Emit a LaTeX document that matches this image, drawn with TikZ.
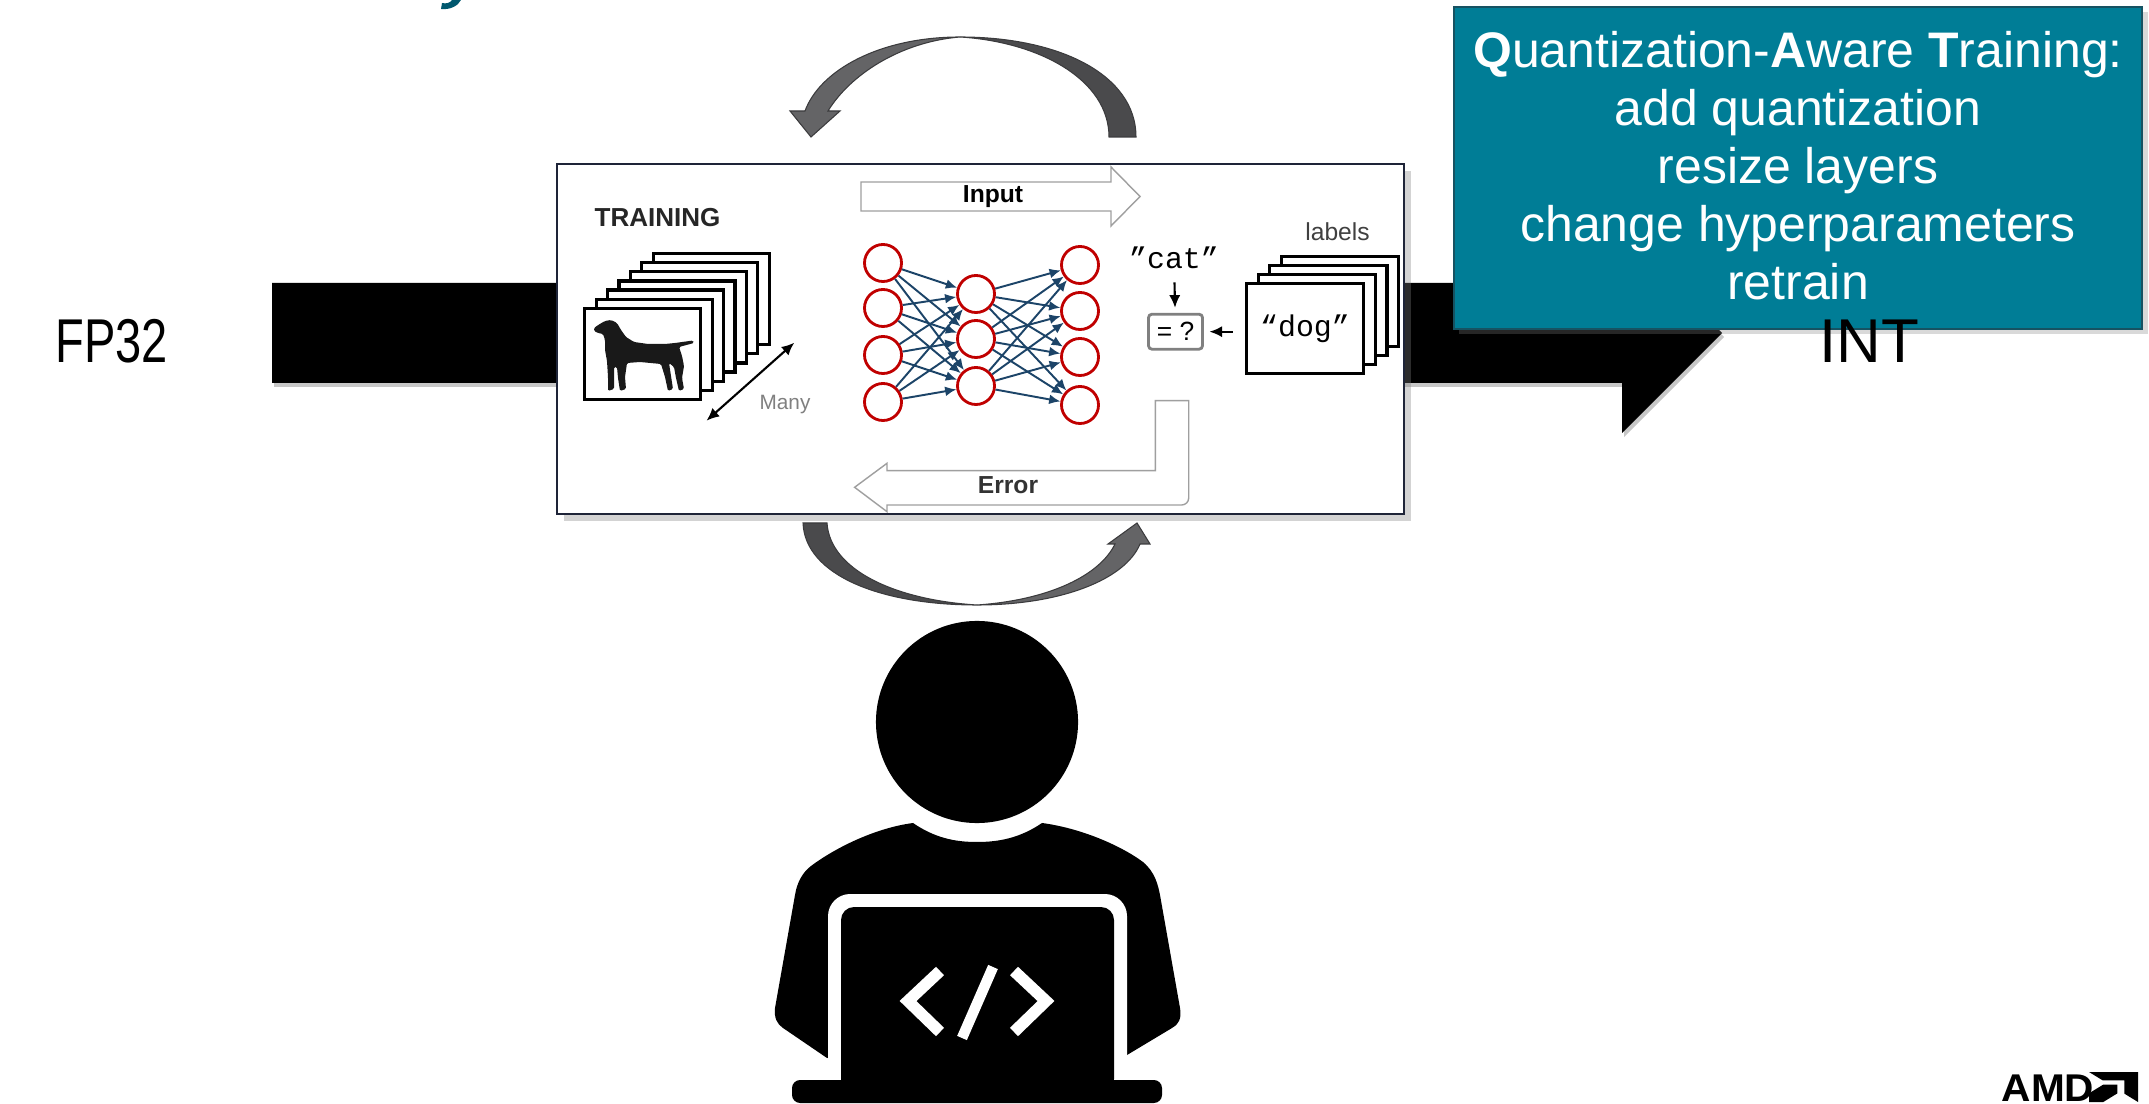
\documentclass[tikz,border=0pt]{standalone}
\usepackage{fontspec}
\setmainfont{Liberation Sans}
\setmonofont{Liberation Mono}
\usepackage{xcolor}
\usetikzlibrary{arrows.meta,positioning,shadows}

\definecolor{qatteal}{RGB}{0,125,150}
\definecolor{qatedge}{RGB}{22,82,98}
\definecolor{titleteal}{RGB}{0,88,110}
\definecolor{netred}{RGB}{192,0,0}
\definecolor{netblue}{RGB}{28,68,104}
\definecolor{loopdark}{RGB}{74,74,76}
\definecolor{looplight}{RGB}{100,100,102}
\definecolor{panelline}{RGB}{30,36,56}

\begin{document}
\begin{tikzpicture}[>=Latex,x=0.01cm,y=-0.01cm,
  card/.style={draw=black,line width=0.9pt,fill=white,minimum width=1.16cm,minimum height=0.91cm,inner sep=0pt},
  neuron/.style={circle,draw=netred,line width=0.8pt,fill=white,minimum size=0.37cm,inner sep=0pt},
  synapse/.style={netblue,line width=0.55pt,-{Latex[length=3.2pt,width=2.8pt]}},
  hollow/.style={draw=gray!75,line width=0.4pt,fill=white},
  smallarr/.style={line width=0.6pt,-{Latex[length=3.6pt,width=3.2pt]}},
  loopd/.style={fill=loopdark,draw=loopdark!80!black,line width=0.3pt},
  loopl/.style={fill=looplight,draw=loopdark!80!black,line width=0.3pt},
  bigtext/.style={font=\fontsize{17.6}{20}\selectfont,inner sep=0pt},
  monotext/.style={font=\ttfamily\fontsize{8.5}{9}\selectfont}
]
\useasboundingbox (0,0) rectangle (2149,1104);

% tail of the slide title
\fill[titleteal] (441,9) .. controls (450,10) and (458,6) .. (461,0) -- (452,0) .. controls (450,3) and (446,4) .. (442,3) -- cycle;

% FP32 -> INT arrow
\fill[black!22] (274,287) -- (1624,287) -- (1624,237) -- (1724,337) -- (1624,437) -- (1624,387) -- (274,387) -- cycle;
\fill (272,283) -- (1622,283) -- (1622,233) -- (1722,333) -- (1622,433) -- (1622,383) -- (272,383) -- cycle;
\node[bigtext,anchor=base west,xscale=0.76] (fp) at (55,363) {FP32};

% training panel
\node[draw=panelline,line width=0.6pt,fill=white,minimum width=8.47cm,minimum height=3.5cm,inner sep=0pt,
  drop shadow={shadow xshift=2pt,shadow yshift=-2pt,opacity=0.35}] (panel) at (980.5,339) {};
\node[font=\bfseries\fontsize{7.4}{9}\selectfont,text=black!85] (train) at (657.6,217.5) {TRAINING};

% stack of images
\foreach \k in {6,5,...,0}
  \node[card] (img\k) at ({642.75+11.4*\k},{353.8-9.1*\k}) {};
\fill[black!90,rounded corners=0.4pt] (594,328) -- (599,324.5) -- (605,321) -- (611,320) -- (617,323) -- (621,330)
  -- (626,337) -- (634,342) -- (648,344) -- (665,344) -- (675,343) -- (693,340.5) -- (694,343) -- (679,347)
  -- (682,356) -- (684,366) -- (682,378) -- (684,389) -- (679,391) -- (676,378) -- (674,367) -- (669,363)
  -- (671,376) -- (673,389) -- (668,391) -- (665,377) -- (661,364) -- (640,362) -- (627,363) -- (625,377)
  -- (626,389) -- (620,391) -- (618,378) -- (617,367) -- (614,367) -- (614,378) -- (614,389) -- (608,391)
  -- (608,377) -- (607,361) -- (605,350) -- (605,340) -- (603,334) -- (598,333) -- (594,331) -- cycle;
\coordinate (many0) at (706.5,420.7);
\coordinate (many1) at (794.3,342.7);
\draw[line width=0.6pt,{Latex[length=3.6pt,width=3.2pt]}-{Latex[length=3.6pt,width=3.2pt]}] (many0) -- (many1);
\node[text=gray,font=\fontsize{5.9}{7}\selectfont] (many) at (785,405) {Many};

% input / error arrows
\draw[hollow] (861,182) -- (1111,182) -- (1111,167) -- (1140,196.5) -- (1111,226) -- (1111,211) -- (861,211) -- cycle;
\node[font=\bfseries\fontsize{7}{8}\selectfont] (input) at (993,197) {Input};
\draw[hollow] (1155.4,400.7) -- (1188.7,400.7) [rounded corners=2pt] -- (1188.7,505) [sharp corners] -- (887,505)
  -- (887,511.7) -- (854.6,487.3) -- (887,463.3) -- (887,470.7) -- (1155.4,470.7) -- cycle;
\node[font=\bfseries\fontsize{7}{8}\selectfont,text=black!80] (err) at (1008,485) {Error};

% network
\foreach \y [count=\i] in {263,308,355,402}
  \node[neuron] (a\i) at (883,\y) {};
\foreach \y [count=\i] in {294,339,386}
  \node[neuron] (b\i) at (976,\y) {};
\foreach \y [count=\i] in {265,311,357,405}
  \node[neuron] (c\i) at (1080,\y) {};
\foreach \i in {1,...,4}
  \foreach \j in {1,2,3} {
    \draw[synapse] (a\i) -- (b\j);
    \draw[synapse] (b\j) -- (c\i);
  }

% labels and comparison
\node[text=black!75,font=\fontsize{7}{8}\selectfont] (labels) at (1337.5,232) {labels};
\foreach \k in {3,2,1,0}
  \node[card,minimum width=1.17cm,minimum height=0.9cm] (lbl\k) at ({1305+11.7*\k},{328.3-8.9*\k}) {};
\node[monotext] (dog) at (lbl0) {“dog”};
\node[monotext] (cat) at (1174,258) {”cat”};
\node[draw=gray,line width=0.8pt,rounded corners=1pt,minimum width=0.54cm,minimum height=0.35cm,inner sep=0pt,
  font=\fontsize{7.5}{8}\selectfont] (eq) at (1175.5,331.7) {= ?};
\draw[smallarr,shorten <=0.01cm,shorten >=0.05cm] (cat) -- (eq);
\draw[smallarr,shorten <=0.12cm,shorten >=0.055cm] (lbl0.west |- eq.east) -- (eq.east);

% loop arrows above and below
\fill[loopd] (1136,137) .. controls (1136,75) and (1060,37) .. (960,37) .. controls (1040,42) and (1109,80) .. (1109,137) -- cycle;
\fill[loopl] (960,37) .. controls (880,37) and (820,70) .. (805,111) -- (790,111) -- (811,137) -- (840,111) -- (828,111)
  .. controls (850,75) and (900,42) .. (960,37) -- cycle;
\fill[loopd] (803,523) -- (827,523) .. controls (830,570) and (895,600) .. (977,605) .. controls (880,605) and (805,575) .. (803,523) -- cycle;
\fill[loopl] (977,605) .. controls (1060,605) and (1125,580) .. (1140,544) -- (1150,544) -- (1137,523) -- (1108,544)
  -- (1115,544) .. controls (1100,575) and (1050,600) .. (977,605) -- cycle;

% Quantization-Aware Training box
\node[fill=qatteal,draw=qatedge,line width=0.5pt,minimum width=6.88cm,minimum height=3.22cm,inner sep=0pt,
  drop shadow={shadow xshift=1.5pt,shadow yshift=-1.5pt,opacity=0.3}] (qat) at (1798,168) {};
\node[text=white,align=center,font=\fontsize{14.2}{16.5}\selectfont,anchor=north,inner sep=0pt] (qattxt) at (1798,31)
  {\textbf{Q}uantization-\textbf{A}ware \textbf{T}raining:\\add quantization\\resize layers\\change hyperparameters\\retrain};
\node[bigtext,anchor=base] (int) at (1869,363) {INT};

% developer at a laptop
\fill (977,722) circle (1.01cm);
\fill (913,823) .. controls (935,838) and (955,842) .. (977,842) .. controls (999,842) and (1020,838) .. (1042,823)
  .. controls (1080,828) and (1120,845) .. (1143,862) .. controls (1155,872) and (1158,885) .. (1160,895)
  -- (1180,1008) .. controls (1182,1019) and (1178,1025) .. (1172,1028) -- (1127,1055) -- (827,1058)
  -- (783,1028) .. controls (777,1024) and (774,1018) .. (775,1008) -- (795,895)
  .. controls (797,882) and (803,872) .. (811,866) .. controls (835,848) and (875,828) .. (913,823) -- cycle;
\fill[white,rounded corners=6.3pt] (828,1092) -- (828,894) -- (1127,894) -- (1127,1092) -- cycle;
\fill[rounded corners=3.7pt] (841,1092) -- (841,907) -- (1114,907) -- (1114,1092) -- cycle;
\fill[rounded corners=2.3pt] (792,1080) -- (1162,1080) -- (1162,1103) -- (792,1103) -- cycle;
\draw[white,line width=3.3pt] (940,971) -- (908,1001) -- (940,1032);
\draw[white,line width=3.3pt] (1014,971) -- (1046,1001) -- (1014,1032);
\draw[white,line width=3pt] (993,967) -- (962,1038);

% logo
\node[font=\bfseries\fontsize{11}{12}\selectfont,anchor=base west,inner sep=0pt,xscale=1.05] (amd) at (2001,1101) {AMD};
\begin{scope}[shift={(2089,1072)},x=0.49cm,y=-0.3cm]
  \fill (0,0) -- (1,0) -- (1,1) -- (0.72,0.72) -- (0.72,0.28) -- (0.28,0.28) -- cycle;
  \fill (0.29,0.42) -- (0.58,0.42) -- (0.58,0.71) -- (0.29,1) -- (0,1) -- (0,0.71) -- cycle;
\end{scope}
\end{tikzpicture}
\end{document}
